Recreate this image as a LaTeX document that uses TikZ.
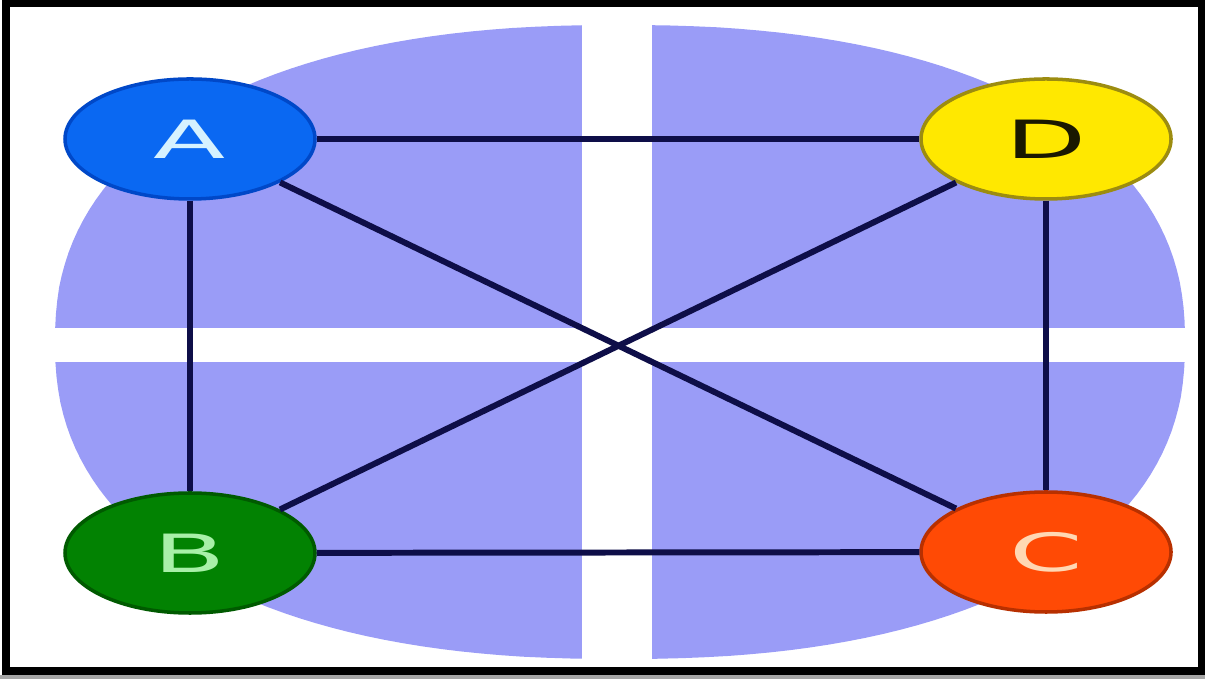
\documentclass[tikz,border=0pt]{standalone}
\usepackage{fontspec}
\newfontfamily\vertexfont[FakeStretch=2.0]{DejaVu Sans}
\usetikzlibrary{shapes.geometric}
\definecolor{QuadBlue}{HTML}{9A9CF7}
\definecolor{EdgeNavy}{HTML}{0E0E48}
\definecolor{FillA}{HTML}{0A68F2}
\definecolor{RimA}{HTML}{0048C8}
\definecolor{InkA}{HTML}{D6F2FF}
\definecolor{FillB}{HTML}{028202}
\definecolor{RimB}{HTML}{005A00}
\definecolor{InkB}{HTML}{A8F0A8}
\definecolor{FillC}{HTML}{FF4A05}
\definecolor{RimC}{HTML}{B83000}
\definecolor{InkC}{HTML}{FFD8B4}
\definecolor{FillD}{HTML}{FFE800}
\definecolor{RimD}{HTML}{9C8C10}
\definecolor{InkD}{HTML}{1A1800}

\begin{document}
\begin{tikzpicture}[
  x=1cm,y=1cm,
  vertex/.style={ellipse,line width=1pt,minimum width=2.5cm,
    minimum height=1.2cm,inner sep=0pt,
    font={\vertexfont\fontsize{15}{18}\selectfont}},
  link/.style={draw=EdgeNavy,line width=1.7pt}
]
\useasboundingbox (0,0) rectangle (12.05,6.79);
% Background disc (a squarish oval), cut into four quadrants by white bars.
\fill[QuadBlue] plot[domain=0.5:360.5,samples=181]
  ({6.20+5.65*sign(cos(\x))*pow(abs(cos(\x)),0.87)},
   {3.37+3.17*sign(sin(\x))*pow(abs(sin(\x)),0.87)}) -- cycle;
\fill[white] (5.82,0) rectangle (6.52,6.79);
\fill[white] (0,3.17) rectangle (12.05,3.51);
% Frame with its thin shadow.
\fill[black!35] (0,0) rectangle (12.05,0.04);
\draw[black,line width=2.1pt] (0.06,0.08) rectangle (12.02,6.755);
% Vertices.
\node[vertex,fill=FillA,draw=RimA,text=InkA] (A) at (1.90,5.40) {A};
\node[vertex,fill=FillB,draw=RimB,text=InkB] (B) at (1.90,1.26) {B};
\node[vertex,fill=FillC,draw=RimC,text=InkC] (C) at (10.46,1.27) {C};
\node[vertex,fill=FillD,draw=RimD,text=InkD] (D) at (10.46,5.40) {D};
% Complete graph on four vertices.
\draw[link] (A) -- (D);
\draw[link] (A) -- (B);
\draw[link] (D) -- (C);
\draw[link] (B) -- (C);
\draw[link] (A) -- (C);
\draw[link] (B) -- (D);
\end{tikzpicture}
\end{document}
